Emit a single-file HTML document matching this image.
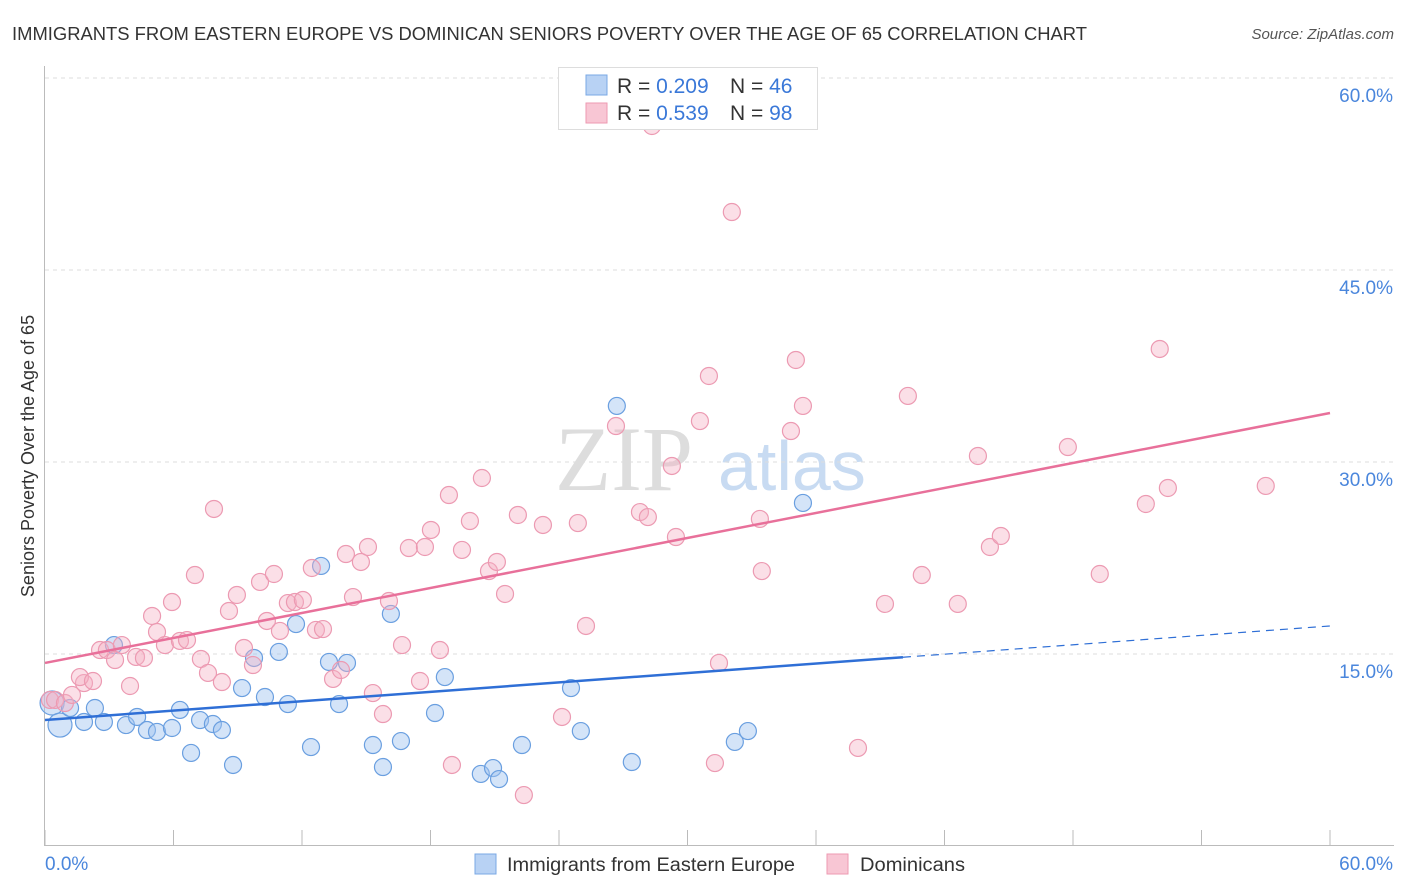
<!DOCTYPE html>
<html><head><meta charset="utf-8"><style>
body{margin:0;background:#fff;font-family:"Liberation Sans",sans-serif;}
#wrap{position:relative;width:1406px;height:892px;overflow:hidden;}
</style></head><body>
<div id="wrap">
<svg id="chart" width="1406" height="892" xmlns="http://www.w3.org/2000/svg">
<text x="12" y="40" font-size="18" fill="#333" textLength="1075" lengthAdjust="spacingAndGlyphs">IMMIGRANTS FROM EASTERN EUROPE VS DOMINICAN SENIORS POVERTY OVER THE AGE OF 65 CORRELATION CHART</text>
<text x="1394" y="39" font-size="15" fill="#555" font-style="italic" text-anchor="end">Source: ZipAtlas.com</text>
<text x="34" y="456" font-size="18" fill="#333" text-anchor="middle" transform="rotate(-90 34 456)">Seniors Poverty Over the Age of 65</text>
<g><text x="555" y="490" font-size="92" fill="#ddd" font-family="Liberation Serif,serif">ZIP</text><text x="718" y="490" font-size="70" fill="#c8dbf2">atlas</text></g>
<g id="grid"></g><g id="axes"></g><g id="pts"></g><g id="lines"></g>
<g>
<rect x="558.5" y="67.5" width="259" height="62" fill="#fff" stroke="#ddd"/>
<rect x="586" y="75" width="21" height="20" fill="#b8d2f4" stroke="#7aa8e4"/>
<rect x="586" y="103" width="21" height="20" fill="#f8c6d4" stroke="#ee9ab2"/>
<text x="617" y="93" font-size="21" fill="#333">R = <tspan fill="#3a78d8">0.209</tspan></text>
<text x="730" y="93" font-size="21" fill="#333">N = <tspan fill="#3a78d8">46</tspan></text>
<text x="617" y="120" font-size="21" fill="#333">R = <tspan fill="#3a78d8">0.539</tspan></text>
<text x="730" y="120" font-size="21" fill="#333">N = <tspan fill="#3a78d8">98</tspan></text>
</g>
<g>
<rect x="475" y="854" width="21" height="20" fill="#b8d2f4" stroke="#7aa8e4"/>
<text x="507" y="871" font-size="19" fill="#333" textLength="288" lengthAdjust="spacingAndGlyphs">Immigrants from Eastern Europe</text>
<rect x="827" y="854" width="21" height="20" fill="#f8c6d4" stroke="#ee9ab2"/>
<text x="860" y="871" font-size="19" fill="#333" textLength="105" lengthAdjust="spacingAndGlyphs">Dominicans</text>
</g>
</svg></div>
<script>
const yTicks=[15,30,45,60];
const yTickLabels=["15.0%","30.0%","45.0%","60.0%"];
const xTicks=[0,6,12,18,24,30,36,42,48,54,60];
const blueX=[.33,.70,1.17,1.82,2.33,2.75,3.22,3.78,4.30,4.76,5.23,5.93,6.30,6.82,7.24,7.84,8.26,8.78,9.20,9.76,10.27,10.92,11.34,11.72,12.42,12.89,13.26,13.73,14.10,15.31,15.78,16.15,16.62,18.21,18.67,20.35,20.92,21.20,22.27,24.56,25.02,26.70,27.40,32.21,32.82,35.39];
const blueY=[11.17,9.45,10.78,9.69,10.78,9.69,15.70,9.45,10.08,9.06,8.91,9.22,10.63,7.27,9.84,9.53,9.06,6.33,12.34,14.69,11.64,15.16,11.09,17.34,7.73,21.88,14.38,11.09,14.30,7.89,6.17,18.13,8.20,10.39,13.20,5.63,6.09,5.23,7.89,12.34,8.98,34.38,6.56,8.13,8.98,26.80];
const pinkX=[.23,.47,.93,1.26,1.82,1.63,2.24,2.57,2.89,3.27,3.59,3.97,4.25,4.62,5.00,5.23,5.60,5.93,6.30,6.63,7.00,7.28,7.61,7.89,8.26,8.59,8.96,9.29,9.71,10.04,10.36,10.69,10.97,11.34,11.67,12.04,12.46,12.65,12.98,13.45,13.82,14.05,14.38,14.75,15.08,15.31,15.78,16.06,16.67,16.99,17.51,17.74,18.02,18.44,18.86,19.00,19.47,19.84,20.40,20.73,21.10,21.48,22.08,22.36,23.25,24.14,24.88,25.26,26.66,27.78,28.15,28.34,29.27,29.46,30.58,31.00,31.28,31.47,32.07,33.38,33.47,34.83,35.06,35.39,37.96,39.22,40.29,40.94,42.62,43.56,44.12,44.63,47.76,49.25,51.40,52.05,52.43,57.00];
const pinkY=[11.41,11.41,11.17,11.80,12.73,13.20,12.89,15.31,15.31,14.53,15.70,12.50,14.77,14.69,17.97,16.72,15.70,19.06,16.02,16.09,21.17,14.61,13.52,26.33,12.81,18.36,19.61,15.47,14.14,20.63,17.58,21.25,16.80,18.98,19.06,19.22,21.72,16.88,16.95,13.05,13.75,22.81,19.45,22.19,23.36,11.95,10.31,19.14,15.70,23.28,12.89,23.36,24.69,15.31,27.42,6.33,23.13,25.39,28.75,21.48,22.19,19.69,25.86,3.98,25.08,10.08,25.23,17.19,32.81,26.09,25.70,56.25,29.69,24.14,33.20,36.72,6.48,14.30,49.53,25.55,21.48,32.42,37.97,34.38,7.66,18.91,35.16,21.17,18.91,30.47,23.36,24.22,31.17,21.25,26.72,38.83,27.97,28.13];
const blueLine=[9.84,17.19]; const blueSolidEnd=40.06;
const pinkLine=[14.3,33.83];
const NS="http://www.w3.org/2000/svg";
const X=v=>45+v*(1285/60), Y=v=>846-v*12.8;
function mk(tag,attrs,parent){const e=document.createElementNS(NS,tag);for(const k in attrs)e.setAttribute(k,attrs[k]);parent.appendChild(e);return e;}
const grid=document.getElementById('grid'),axes=document.getElementById('axes'),pts=document.getElementById('pts'),lines=document.getElementById('lines');
yTicks.forEach((t,i)=>{
 const l=mk('line',{x1:45,x2:1394,y1:Y(t),y2:Y(t),stroke:'#ddd','stroke-dasharray':'4,4'},grid);
 
 
 const tx=mk('text',{x:1393,y:Y(t)+24,'font-size':19,fill:'#4a86dc','text-anchor':'end'},axes);
 tx.textContent=yTickLabels[i];
 
 
});
const ya=mk('line',{x1:44.5,x2:44.5,y1:66,y2:846,stroke:'#bbb'},axes);


const xa=mk('line',{x1:44,x2:1394,y1:845.5,y2:845.5,stroke:'#bbb'},axes);


xTicks.forEach(t=>{
 const l=mk('line',{x1:X(t),x2:X(t),y1:830,y2:846,stroke:'#bbb'},axes);
 
 
});
const xl0=mk('text',{x:45,y:870,'font-size':19,fill:'#4a86dc'},axes);xl0.textContent='0.0%';


const xl1=mk('text',{x:1393,y:870,'font-size':19,fill:'#4a86dc','text-anchor':'end'},axes);xl1.textContent='60.0%';


blueX.forEach((x,i)=>{
 const c=mk('circle',{cx:X(x),cy:Y(blueY[i]),r:i<2?12:8.5,fill:'rgba(160,196,240,0.45)',stroke:'#6a9fe0','stroke-width':1.2},pts);
 
 
});
pinkX.forEach((x,i)=>{
 const c=mk('circle',{cx:X(x),cy:Y(pinkY[i]),r:8.5,fill:'rgba(244,176,196,0.4)',stroke:'#ec9ab2','stroke-width':1.2},pts);
 
 
});
const by=x=>blueLine[0]+(blueLine[1]-blueLine[0])*x/60;
const b1=mk('line',{x1:X(0),y1:Y(by(0)),x2:X(blueSolidEnd),y2:Y(by(blueSolidEnd)),stroke:'#2f6fd6','stroke-width':2.5},lines);


const b2=mk('line',{x1:X(blueSolidEnd),y1:Y(by(blueSolidEnd)),x2:X(60),y2:Y(by(60)),stroke:'#2f6fd6','stroke-width':1.2,'stroke-dasharray':'8,6'},lines);


const p1=mk('line',{x1:X(0),y1:Y(pinkLine[0]),x2:X(60),y2:Y(pinkLine[1]),stroke:'#e8709a','stroke-width':2.5},lines);


</script>
</body></html>
